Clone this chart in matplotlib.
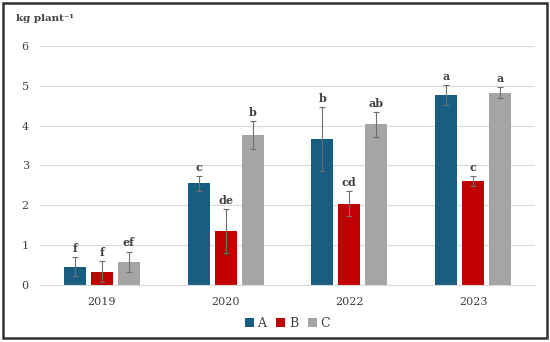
import numpy as np
import matplotlib.pyplot as plt
from matplotlib.patches import Rectangle

years = ["2019", "2020", "2022", "2023"]
series = ["A", "B", "C"]
means = {
    "A": [0.46, 2.55, 3.66, 4.77],
    "B": [0.33, 1.35, 2.04, 2.61],
    "C": [0.58, 3.77, 4.03, 4.83],
}
errs = {
    "A": [0.24, 0.18, 0.81, 0.25],
    "B": [0.26, 0.55, 0.31, 0.13],
    "C": [0.26, 0.35, 0.32, 0.14],
}
letters = {
    "A": ["f", "c", "b", "a"],
    "B": ["f", "de", "cd", "c"],
    "C": ["ef", "b", "ab", "a"],
}
colors = {"A": "#1a5d83", "B": "#c00000", "C": "#a5a5a5"}

plt.rcParams['font.family'] = ['DejaVu Serif']

fig = plt.figure(figsize=(5.5, 3.42), dpi=100)
ax = fig.add_axes([0.0727, 0.1667, 0.9, 0.6988])

x = np.arange(len(years))
w = 0.178
step = 0.218
for k, s in enumerate(series):
    pos = x + (k - 1) * step
    ax.bar(pos, means[s], w, color=colors[s], label=s, zorder=2)
    ax.errorbar(pos, means[s], yerr=errs[s], fmt='none', ecolor='#6f6f6f',
                elinewidth=0.8, capsize=2.2, capthick=0.8, zorder=3)
    for p, m, e, t in zip(pos, means[s], errs[s], letters[s]):
        ax.text(p, m + e + 0.08, t, ha='center', va='bottom', fontsize=8,
                fontweight='bold', color='#404040')

ax.set_xlim(-0.5, 3.5)
ax.set_ylim(0, 6)
ax.set_yticks(range(7))
ax.set_xticks(x)
ax.set_xticklabels(years)
ax.yaxis.grid(True, color='#d9d9d9', lw=0.8, zorder=0)
ax.set_axisbelow(True)
for sp in ['top', 'right', 'left']:
    ax.spines[sp].set_visible(False)
ax.spines['bottom'].set_color('#d9d9d9')
ax.tick_params(length=0, labelsize=8, colors='#404040', pad=9)
ax.tick_params(axis='y', pad=8)

fig.text(0.029, 0.945, "kg plant⁻¹", fontsize=7.5, fontweight='bold',
         color='#404040', va='center', ha='left')

ax.legend(loc='upper center', bbox_to_anchor=(0.5, -0.085), ncol=3, frameon=False,
          fontsize=9, handlelength=0.7, handleheight=0.7, handletextpad=0.3,
          columnspacing=0.8, labelcolor='#404040')

fig.patches.append(Rectangle((0.006, 0.012), 0.988, 0.978, transform=fig.transFigure,
                             fill=False, edgecolor='#333333', lw=1.8))

fig.savefig('out.png', dpi=100)
